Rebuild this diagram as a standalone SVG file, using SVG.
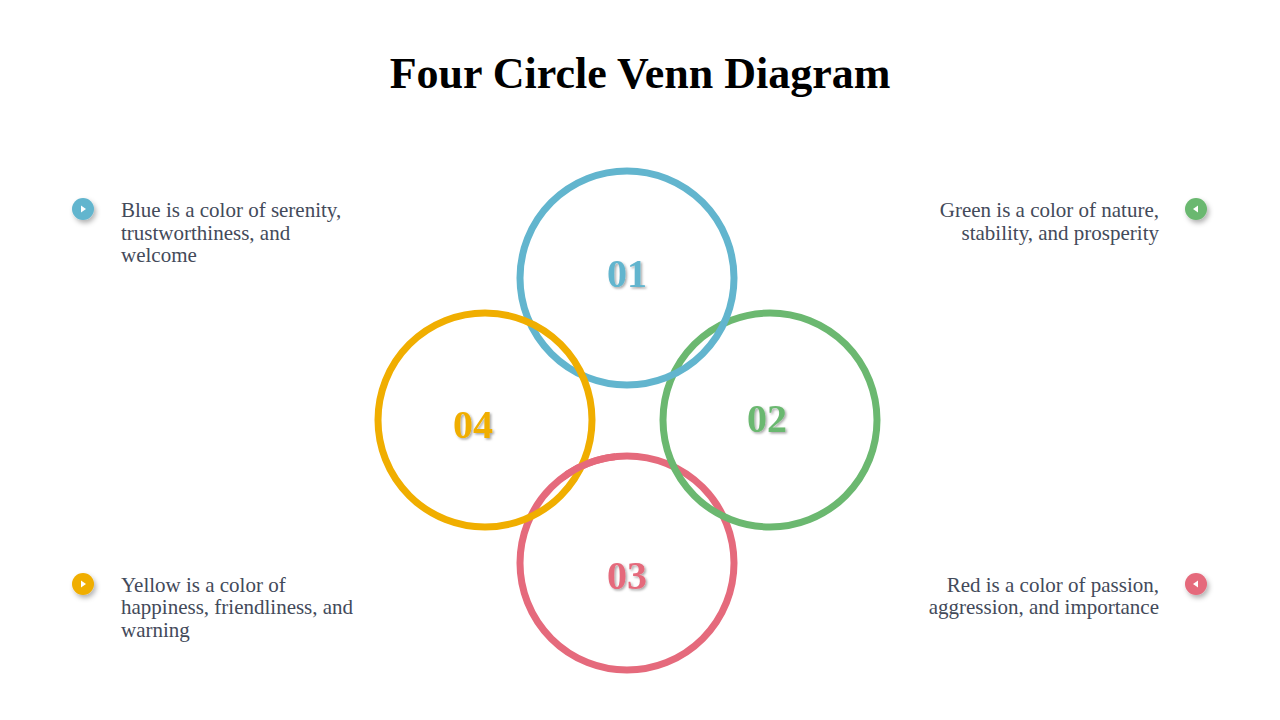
<svg xmlns="http://www.w3.org/2000/svg" width="1280" height="720" viewBox="0 0 1280 720">
<defs>
<filter id="sh" x="-50%" y="-50%" width="200%" height="200%"><feDropShadow dx="2" dy="3" stdDeviation="2.5" flood-color="#000" flood-opacity="0.3"/></filter>
<filter id="ts" x="-20%" y="-20%" width="140%" height="140%"><feDropShadow dx="1.5" dy="1.5" stdDeviation="0.8" flood-color="#000" flood-opacity="0.35"/></filter>
<clipPath id="cl"><rect x="565" y="440" width="50" height="45"/></clipPath>
</defs>
<style>
.c{fill:none;stroke-width:7}
.t{font-family:"Liberation Serif","DejaVu Serif",serif;font-size:21px;fill:#434a5a}
.n{font-family:"Liberation Serif","DejaVu Serif",serif;font-size:40px;font-weight:bold;text-anchor:middle;filter:url(#ts)}
</style>
<rect width="1280" height="720" fill="#fff"/>
<text x="640" y="88" text-anchor="middle" font-family="Liberation Serif, DejaVu Serif, serif" font-size="44" font-weight="bold" fill="#000">Four Circle Venn Diagram</text>
<g id="circles">
<circle cx="627" cy="563" r="107" class="c" stroke="#E56A7C"/>
<circle cx="770" cy="420" r="107" class="c" stroke="#6BB870"/>
<circle cx="627" cy="278" r="107" class="c" stroke="#62B5CE"/>
<circle cx="485" cy="420" r="107" class="c" stroke="#F0AE00"/>
<circle cx="627" cy="563" r="107" class="c" stroke="#E56A7C" clip-path="url(#cl)"/>
</g>
<g id="n1"><text x="627" y="287" class="n" fill="#62B5CE">01</text></g>
<g id="n2"><text x="767" y="432" class="n" fill="#6BB870">02</text></g>
<g id="n3"><text x="627" y="589" class="n" fill="#E56A7C">03</text></g>
<g id="n4"><text x="473" y="438" class="n" fill="#F0AE00">04</text></g>
<g id="b1"><circle cx="83" cy="209" r="11" fill="#62B5CE" filter="url(#sh)"/><path d="M81 205.5 L86 209 L81 212.5Z" fill="#fff"/>
<text class="t" x="121" y="217">Blue is a color of serenity,</text><text class="t" x="121" y="240">trustworthiness, and</text><text class="t" x="121" y="262">welcome</text></g>
<g id="b2"><circle cx="1196" cy="209" r="11" fill="#6BB870" filter="url(#sh)"/><path d="M1198 205.5 L1193 209 L1198 212.5Z" fill="#fff"/>
<text class="t" x="1159" y="217" text-anchor="end">Green is a color of nature,</text><text class="t" x="1159" y="240" text-anchor="end">stability, and prosperity</text></g>
<g id="b3"><circle cx="83" cy="584" r="11" fill="#F0AE00" filter="url(#sh)"/><path d="M81 580.5 L86 584 L81 587.5Z" fill="#fff"/>
<text class="t" x="121" y="592">Yellow is a color of</text><text class="t" x="121" y="614">happiness, friendliness, and</text><text class="t" x="121" y="637">warning</text></g>
<g id="b4"><circle cx="1196" cy="584" r="11" fill="#E56A7C" filter="url(#sh)"/><path d="M1198 580.5 L1193 584 L1198 587.5Z" fill="#fff"/>
<text class="t" x="1159" y="592" text-anchor="end">Red is a color of passion,</text><text class="t" x="1159" y="614" text-anchor="end">aggression, and importance</text></g>
<g id="connectors"/>
</svg>
